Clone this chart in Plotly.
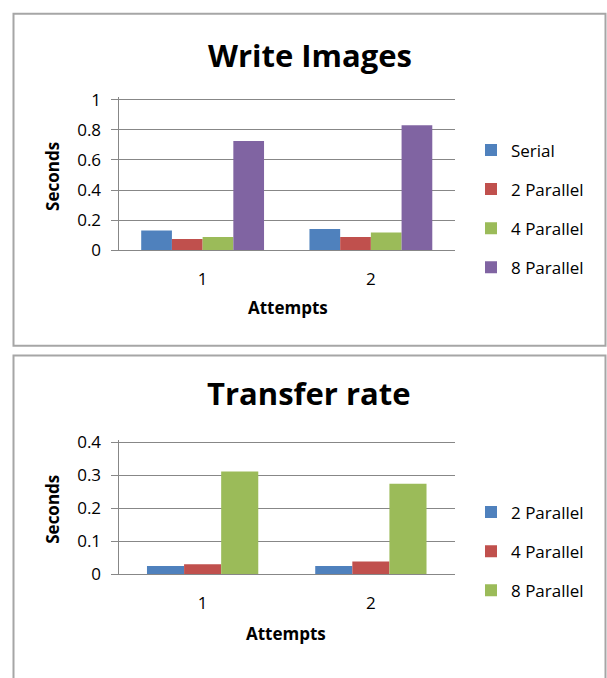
import plotly.graph_objects as go

# ---- data ----
attempts = ["1", "2"]

write_series = ["Serial", "2 Parallel", "4 Parallel", "8 Parallel"]
write_serial = [0.13, 0.14]
write_par2 = [0.075, 0.088]
write_par4 = [0.088, 0.118]
write_par8 = [0.725, 0.83]

transfer_series = ["2 Parallel", "4 Parallel", "8 Parallel"]
transfer_par2 = [0.025, 0.025]
transfer_par4 = [0.03, 0.038]
transfer_par8 = [0.312, 0.275]

write_ticks = [0, 0.2, 0.4, 0.6, 0.8, 1]
transfer_ticks = [0, 0.1, 0.2, 0.3, 0.4]

# ---- styling ----
W, H = 607, 678
BLUE, RED, GREEN, PURPLE = "#4F81BD", "#C0504D", "#9BBB59", "#8064A2"
GRID = "#878787"
BORDER = "#a6a6a6"
FONT = "Open Sans"


def px(x):
    return x / W


def py(y):
    return 1 - y / H


fig = go.Figure()

# Write Images: four bars per attempt
write_vals = [write_serial, write_par2, write_par4, write_par8]
write_cols = [BLUE, RED, GREEN, PURPLE]
wb = 0.1825
for i, (name, vals, col) in enumerate(zip(write_series, write_vals, write_cols)):
    fig.add_trace(go.Bar(
        x=attempts, y=vals, name=name, marker=dict(color=col, line=dict(width=0)),
        width=wb, offset=-2 * wb + i * wb, xaxis="x", yaxis="y",
        legend="legend", legendgroup="w" + str(i), hoverinfo="skip"))

# Transfer rate: three bars per attempt
transfer_vals = [transfer_par2, transfer_par4, transfer_par8]
transfer_cols = [BLUE, RED, GREEN]
tb = 0.2205
for i, (name, vals, col) in enumerate(zip(transfer_series, transfer_vals, transfer_cols)):
    fig.add_trace(go.Bar(
        x=attempts, y=vals, name=name, marker=dict(color=col, line=dict(width=0)),
        width=tb, offset=-1.5 * tb + i * tb, xaxis="x2", yaxis="y2",
        legend="legend2", legendgroup="t" + str(i), hoverinfo="skip"))

tickfont = dict(family=FONT, size=17, color="#000000")

xcommon = dict(type="category", showgrid=False, showline=True, linecolor=GRID,
               linewidth=1, ticks="", tickfont=tickfont, ticklabelstandoff=13,
               domain=[px(118.5), px(455)], fixedrange=True)
ycommon = dict(showgrid=True, gridcolor=GRID, gridwidth=1, showline=True,
               linecolor=GRID, linewidth=1, ticks="outside", ticklen=7,
               tickcolor=GRID, tickfont=tickfont, zeroline=False,
               ticklabelstandoff=6, fixedrange=True)

# value ranges padded slightly so the top gridline stays inside the plot
w_top = 1.02
t_top = 0.408
w_zero, w_unit = 248.5, 155.0
t_zero, t_unit = 582.3, 339.0

fig.update_layout(
    width=W, height=H,
    margin=dict(l=0, r=0, t=0, b=0),
    paper_bgcolor="white", plot_bgcolor="white",
    barmode="overlay",
    xaxis=dict(anchor="y", **xcommon),
    yaxis=dict(anchor="x", domain=[py(w_zero), py(w_zero - w_unit * w_top)],
               range=[0, w_top], tickvals=write_ticks, **ycommon),
    xaxis2=dict(anchor="y2", **xcommon),
    yaxis2=dict(anchor="x2", domain=[py(t_zero), py(t_zero - t_unit * t_top)],
                range=[0, t_top], tickvals=transfer_ticks, **ycommon),
    legend=dict(x=px(471), y=py(206), xanchor="left", yanchor="middle",
                font=dict(family=FONT, size=17, color="#000000"),
                tracegroupgap=14, bgcolor="rgba(0,0,0,0)", itemclick=False),
    legend2=dict(x=px(471), y=py(559), xanchor="left", yanchor="middle",
                 font=dict(family=FONT, size=17, color="#000000"),
                 tracegroupgap=14, bgcolor="rgba(0,0,0,0)", itemclick=False),
    showlegend=True,
)

# chart frames
fig.add_shape(type="rect", xref="paper", yref="paper",
              x0=px(13.5), x1=px(605.5), y0=py(347), y1=py(5),
              line=dict(color=BORDER, width=2), fillcolor="rgba(0,0,0,0)", layer="below")
fig.add_shape(type="rect", xref="paper", yref="paper",
              x0=px(13.5), x1=px(605.5), y0=py(700), y1=py(357),
              line=dict(color=BORDER, width=2), fillcolor="rgba(0,0,0,0)", layer="below")


# titles and axis titles
def label(text, x, y, size, bold=True, angle=0):
    fig.add_annotation(text="<b>%s</b>" % text if bold else text,
                       xref="paper", yref="paper", x=px(x), y=py(y),
                       xanchor="center", yanchor="middle", showarrow=False,
                       textangle=angle,
                       font=dict(family=FONT, size=size, color="#000000"))


label("Write Images", 309.5, 47, 31)
label("Transfer rate", 308.5, 396, 31)
label("Attempts", 288, 308, 17)
label("Attempts", 286, 643, 17)
label("Seconds", 53, 173, 17, angle=-90)
label("Seconds", 53, 516, 17, angle=-90)

fig.write_html("out.html")
